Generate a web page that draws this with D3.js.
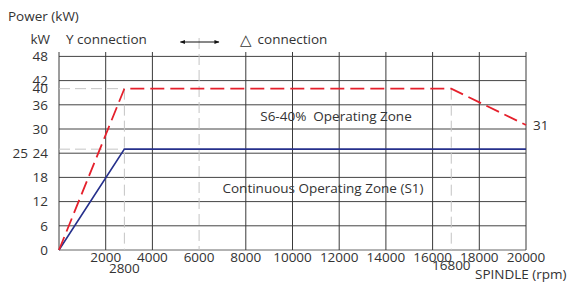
<!DOCTYPE html>
<html><head><meta charset="utf-8">
<script src="https://cdn.jsdelivr.net/npm/d3@7"></script>
<style>
html,body{margin:0;padding:0;background:#fff;}
text{font-family:"Open Sans","Noto Sans",sans-serif;fill:#333;}
</style></head>
<body>
<svg id="c" width="568" height="284"></svg>
<script>
// ---- data ----
const xTicks = [2000,4000,6000,8000,10000,12000,14000,16000,18000,20000];
const yTicks = [0,6,12,18,24,30,36,42,48];
const s6Rpm = [0,2800,16800,20000];
const s6Kw  = [0,40,40,31];
const s1Rpm = [0,2800,20000];
const s1Kw  = [0,25,25];
const refRpm = [2800,16800];
const refKw  = [25,40];
const arrowRpm = [5200,6850];

const FS = 13.5;
const svg = d3.select("#c");
const x = d3.scaleLinear().domain([0,20000]).range([59,526]);
const y = d3.scaleLinear().domain([0,48]).range([250,56.4]);
const gridTop = 52;

// horizontal grid
svg.append("g").selectAll("line").data(yTicks).join("line")
  .attr("x1",x(0)).attr("x2",x(20000))
  .attr("y1",d=>y(d)).attr("y2",d=>y(d))
  .attr("stroke",d=>d===0?"#666":"#444").attr("stroke-width",1);

// vertical grid (6000 is drawn as dashed reference)
svg.append("g").selectAll("line").data([0].concat(xTicks.filter(d=>d!==6000))).join("line")
  .attr("x1",d=>x(d)).attr("x2",d=>x(d))
  .attr("y1",gridTop).attr("y2",y(0))
  .attr("stroke","#3a3a3a").attr("stroke-width",1);

const refStyle = sel => sel.attr("stroke","#c4c4c4").attr("stroke-width",1).attr("stroke-dasharray","11,5");
// dashed reference lines
svg.append("line").attr("x1",x(6000)).attr("x2",x(6000)).attr("y1",38).attr("y2",y(0)).call(refStyle);
svg.append("line").attr("x1",x(refRpm[0])).attr("x2",x(refRpm[0])).attr("y1",y(40)).attr("y2",y(0)).call(refStyle);
svg.append("line").attr("x1",x(refRpm[1])).attr("x2",x(refRpm[1])).attr("y1",y(40)).attr("y2",y(0)).call(refStyle);
svg.append("g").selectAll("line").data(refKw).join("line")
  .attr("x1",x(0)).attr("x2",x(2800)).attr("y1",d=>y(d)).attr("y2",d=>y(d)).call(refStyle);

// series
const line = d3.line().x(d=>x(d[0])).y(d=>y(d[1]));
svg.append("path").attr("d",line(s1Rpm.map((r,i)=>[r,s1Kw[i]])))
  .attr("fill","none").attr("stroke","#26308c").attr("stroke-width",1.6);
svg.append("path").attr("d",line(s6Rpm.map((r,i)=>[r,s6Kw[i]])))
  .attr("fill","none").attr("stroke","#e5202c").attr("stroke-width",1.8).attr("stroke-dasharray","14,6");

// y tick labels
svg.append("g").selectAll("text").data(yTicks).join("text")
  .attr("x",48).attr("y",d=>y(d)).attr("dy","0.35em").attr("text-anchor","end")
  .attr("font-size",FS).text(d=>d);
svg.append("text").attr("x",48).attr("y",y(40)).attr("dy","0.35em").attr("text-anchor","end").attr("font-size",FS).text(refKw[1]);
svg.append("text").attr("x",28).attr("y",y(24)).attr("dy","0.35em").attr("text-anchor","end").attr("font-size",FS).text(refKw[0]);
svg.append("text").attr("x",50).attr("y",44).attr("text-anchor","end").attr("font-size",FS).text("kW");
svg.append("text").attr("x",8).attr("y",21).attr("font-size",FS).text("Power (kW)");

// x tick labels
svg.append("g").selectAll("text").data(xTicks).join("text")
  .attr("x",d=>x(d)).attr("y",262).attr("text-anchor","middle").attr("font-size",FS).text(d=>d);
svg.append("text").attr("x",x(refRpm[0])).attr("y",273).attr("text-anchor","middle").attr("font-size",FS).text(refRpm[0]);
svg.append("text").attr("x",x(refRpm[1])).attr("y",270).attr("text-anchor","middle").attr("font-size",FS).text(refRpm[1]);
svg.append("text").attr("x",475).attr("y",279).attr("font-size",FS).text("SPINDLE (rpm)");

// annotations
svg.append("text").attr("x",66).attr("y",44).attr("font-size",FS).text("Y connection");
const defs = svg.append("defs");
defs.append("marker").attr("id","ah").attr("viewBox","0 0 10 10").attr("refX",9).attr("refY",5)
  .attr("markerWidth",7).attr("markerHeight",5).attr("orient","auto-start-reverse")
  .append("path").attr("d","M0,1L10,5L0,9z").attr("fill","#111");
svg.append("line").attr("x1",x(arrowRpm[0])).attr("x2",x(arrowRpm[1])).attr("y1",42).attr("y2",42)
  .attr("stroke","#111").attr("stroke-width",1)
  .attr("marker-start","url(#ah)").attr("marker-end","url(#ah)");
const dt = svg.append("text").attr("x",240).attr("y",45).attr("font-size",FS);
dt.append("tspan").attr("font-family","DejaVu Sans").attr("font-size",15).text("△");
dt.append("tspan").attr("dx",6).attr("dy",-1).text("connection");

svg.append("text").attr("x",336).attr("y",121).attr("text-anchor","middle").attr("font-size",FS).attr("xml:space","preserve").text("S6-40%  Operating Zone");
svg.append("text").attr("x",323).attr("y",193).attr("text-anchor","middle").attr("font-size",FS).text("Continuous Operating Zone (S1)");
svg.append("text").attr("x",533).attr("y",130).attr("font-size",FS).text(s6Kw[3]);
</script>
</body></html>
